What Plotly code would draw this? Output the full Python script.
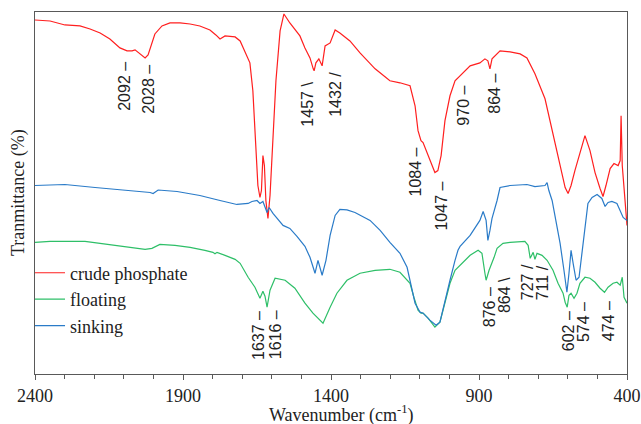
import plotly.graph_objects as go

# ---- data (wavenumber cm-1, relative transmittance) ----
crude_wn = [2400, 2349, 2299, 2248, 2214, 2180, 2147, 2113, 2089, 2072, 2062, 2045, 2028, 2018, 2011,
            1995, 1971, 1944, 1910, 1876, 1843, 1809, 1789, 1775, 1758, 1724, 1707, 1691, 1674, 1664,
            1653, 1647, 1640, 1635, 1630, 1625, 1620, 1613, 1606, 1599, 1586, 1572, 1559, 1539, 1505,
            1488, 1471, 1460, 1457, 1451, 1441, 1430, 1420, 1403, 1386, 1370, 1336, 1302, 1251, 1201,
            1167, 1133, 1116, 1106, 1096, 1089, 1079, 1066, 1049, 1039, 1028, 1015, 998, 981, 964,
            930, 897, 880, 870, 863, 856, 846, 829, 795, 761, 738, 711, 677, 660, 643,
            626, 609, 599, 589, 576, 559, 542, 525, 508, 491, 481, 471, 457, 444, 430,
            423, 420, 416, 410, 403, 400]
crude_t = [355, 354, 350, 349, 346, 342, 336, 327, 324, 324, 325, 321, 317, 320, 326,
           341, 349, 352, 352, 351, 349, 345, 340, 336, 339, 338, 334, 324, 312, 284,
           224, 189, 177, 184, 219, 209, 174, 156, 179, 224, 294, 344, 361, 352, 339,
           327, 317, 306, 304, 312, 316, 309, 329, 332, 345, 342, 334, 322, 306, 294,
           292, 289, 269, 244, 234, 232, 224, 214, 202, 204, 219, 254, 279, 294, 299,
           309, 312, 316, 314, 306, 316, 319, 324, 323, 321, 317, 301, 276, 254, 234,
           209, 187, 181, 189, 204, 222, 239, 224, 202, 186, 178, 189, 206, 211, 209,
           214, 259, 209, 184, 159, 149]

floating_wn = [2400, 2349, 2231, 2180, 2089, 2028, 2005, 1978, 1927, 1876, 1826, 1799, 1792, 1785, 1758,
               1724, 1707, 1680, 1657, 1648, 1640, 1630, 1623, 1616, 1606, 1589, 1555, 1522, 1488, 1461,
               1437, 1427, 1403, 1380, 1346, 1302, 1251, 1201, 1167, 1150, 1133, 1120, 1106, 1096, 1089,
               1072, 1049, 1032, 1015, 998, 981, 964, 954, 930, 903, 890, 880, 876, 866, 860,
               849, 839, 819, 795, 761, 745, 734, 727, 717, 711, 704, 687, 670, 650, 633,
               616, 609, 602, 596, 589, 579, 569, 559, 542, 525, 508, 491, 476, 464, 447,
               434, 423, 416, 410, 400]
floating_t = [132, 133, 133, 131, 127, 125, 126, 130, 129, 127, 124, 122, 120.5, 122, 119,
              115, 111, 97, 87, 82, 76, 83, 78, 67, 84, 96, 94, 86, 71, 61,
              54, 51, 67, 81, 94, 101, 104, 105, 102, 97, 91, 77, 64, 61, 61,
              56, 47, 52, 71, 91, 104, 109, 112, 119, 124, 121, 101, 94, 104, 108,
              117, 126, 131, 132, 133, 133, 129, 116, 122, 115, 121, 119, 114, 104, 91,
              81, 72, 67, 79, 81, 76, 81, 91, 97, 96, 92, 86, 82, 87, 91,
              92, 89, 97, 77, 71]

sinking_wn = [2400, 2299, 2197, 2089, 2028, 2011, 2001, 1984, 1920, 1843, 1775, 1718, 1680, 1667, 1650,
              1640, 1630, 1616, 1609, 1596, 1562, 1539, 1515, 1488, 1471, 1460, 1454, 1444, 1430, 1417,
              1403, 1386, 1370, 1346, 1319, 1268, 1234, 1201, 1167, 1143, 1133, 1116, 1099, 1089, 1066,
              1045, 1032, 1015, 998, 981, 971, 964, 954, 930, 897, 886, 876, 870, 863, 856,
              839, 829, 795, 761, 738, 711, 677, 670, 664, 653, 643, 626, 613, 603, 596,
              589, 582, 572, 562, 552, 542, 532, 518, 501, 485, 474, 464, 451, 434, 423,
              413, 400]
sinking_t = [189, 190, 187, 184, 183, 182, 181, 184.5, 183, 179, 174, 170, 171, 173, 174,
             171, 173, 162, 167, 161, 149, 146, 138, 128, 117, 107, 101, 114, 99, 114,
             139, 159, 165, 164.5, 162, 154, 144, 132, 121, 107, 94, 71, 62, 61, 54,
             49, 52, 74, 94, 114, 124, 128, 131, 139, 154, 163, 154, 134, 144, 156,
             174, 187, 189, 190, 190, 188, 189, 192, 184, 174, 157, 131, 104, 82, 101,
             124, 111, 94, 97, 121, 151, 171, 177, 180, 176, 168, 172, 173, 171, 164,
             157, 154]

# peak labels: text, wavenumber position, height position
peak_labels = ["2092 –", "2028 –", "1457 \\", "1432 /", "1084 –", "1047 –", "970 –", "864 –",
               "1637 –", "1616 –", "876 –", "864 \\", "727 /", "711 /", "602 –", "574 –", "474 –"]
peak_x = [2096, 2015, 1478, 1383, 1113, 1028, 951, 846,
          1647, 1589, 866, 816, 738, 687, 599, 549, 464]
peak_y = [289, 286, 271, 280, 203, 168, 269, 281,
          39, 39, 67, 79, 92, 91, 43, 52, 53]

x_ticks = [2400, 1900, 1400, 900, 400]

RED = "#FF1F1F"
GREEN = "#2EBF68"
BLUE = "#2A7BC8"
SERIF = "Liberation Serif"
SANS = "Liberation Sans"
AXC = "#595959"

fig = go.Figure()
fig.add_trace(go.Scatter(x=crude_wn, y=crude_t, mode="lines", name="crude phosphate",
                         line=dict(color=RED, width=1.2)))
fig.add_trace(go.Scatter(x=floating_wn, y=floating_t, mode="lines", name="floating",
                         line=dict(color=GREEN, width=1.2)))
fig.add_trace(go.Scatter(x=sinking_wn, y=sinking_t, mode="lines", name="sinking",
                         line=dict(color=BLUE, width=1.2)))

for t, x, y in zip(peak_labels, peak_x, peak_y):
    fig.add_annotation(x=x, y=y, xref="x", yref="y", text=t, showarrow=False,
                       xanchor="center", yanchor="middle",
                       textangle=-90, font=dict(family=SANS, size=16, color="#222222"))

fig.add_annotation(x=-0.0287, y=0.5, xref="paper", yref="paper", text="Tranmittance (%)",
                   showarrow=False, textangle=-90, xanchor="center", yanchor="middle",
                   font=dict(family=SERIF, size=18, color="#222222"))
fig.add_annotation(x=0.517, y=-0.11, xref="paper", yref="paper",
                   text="Wavenumber (cm<sup>-1</sup>)", showarrow=False,
                   xanchor="center", yanchor="middle",
                   font=dict(family=SERIF, size=18, color="#222222"))

fig.update_layout(
    width=641, height=424,
    margin=dict(l=35, r=14, t=12, b=50, autoexpand=False),
    paper_bgcolor="white", plot_bgcolor="white",
    showlegend=True,
    legend=dict(x=-0.0084, y=0.33, xanchor="left", yanchor="top",
                font=dict(family=SERIF, size=18, color="#222222"),
                bgcolor="rgba(0,0,0,0)", tracegroupgap=0, traceorder="normal"),
    xaxis=dict(range=[2400, 400], tickvals=x_ticks, ticks="outside", ticklen=5,
               tickcolor=AXC, showline=True, linecolor=AXC, linewidth=1, mirror=True,
               showgrid=False, zeroline=False, automargin=False,
               tickfont=dict(family=SERIF, size=18, color="#222222"),
               minor=dict(dtick=100, tick0=400, ticks="outside", ticklen=4, tickcolor=AXC,
                          showgrid=False)),
    yaxis=dict(range=[0, 363], showticklabels=False, ticks="", showline=True, linecolor=AXC,
               linewidth=1, mirror=True, showgrid=False, zeroline=False, automargin=False),
)

fig.write_html("out.html")
